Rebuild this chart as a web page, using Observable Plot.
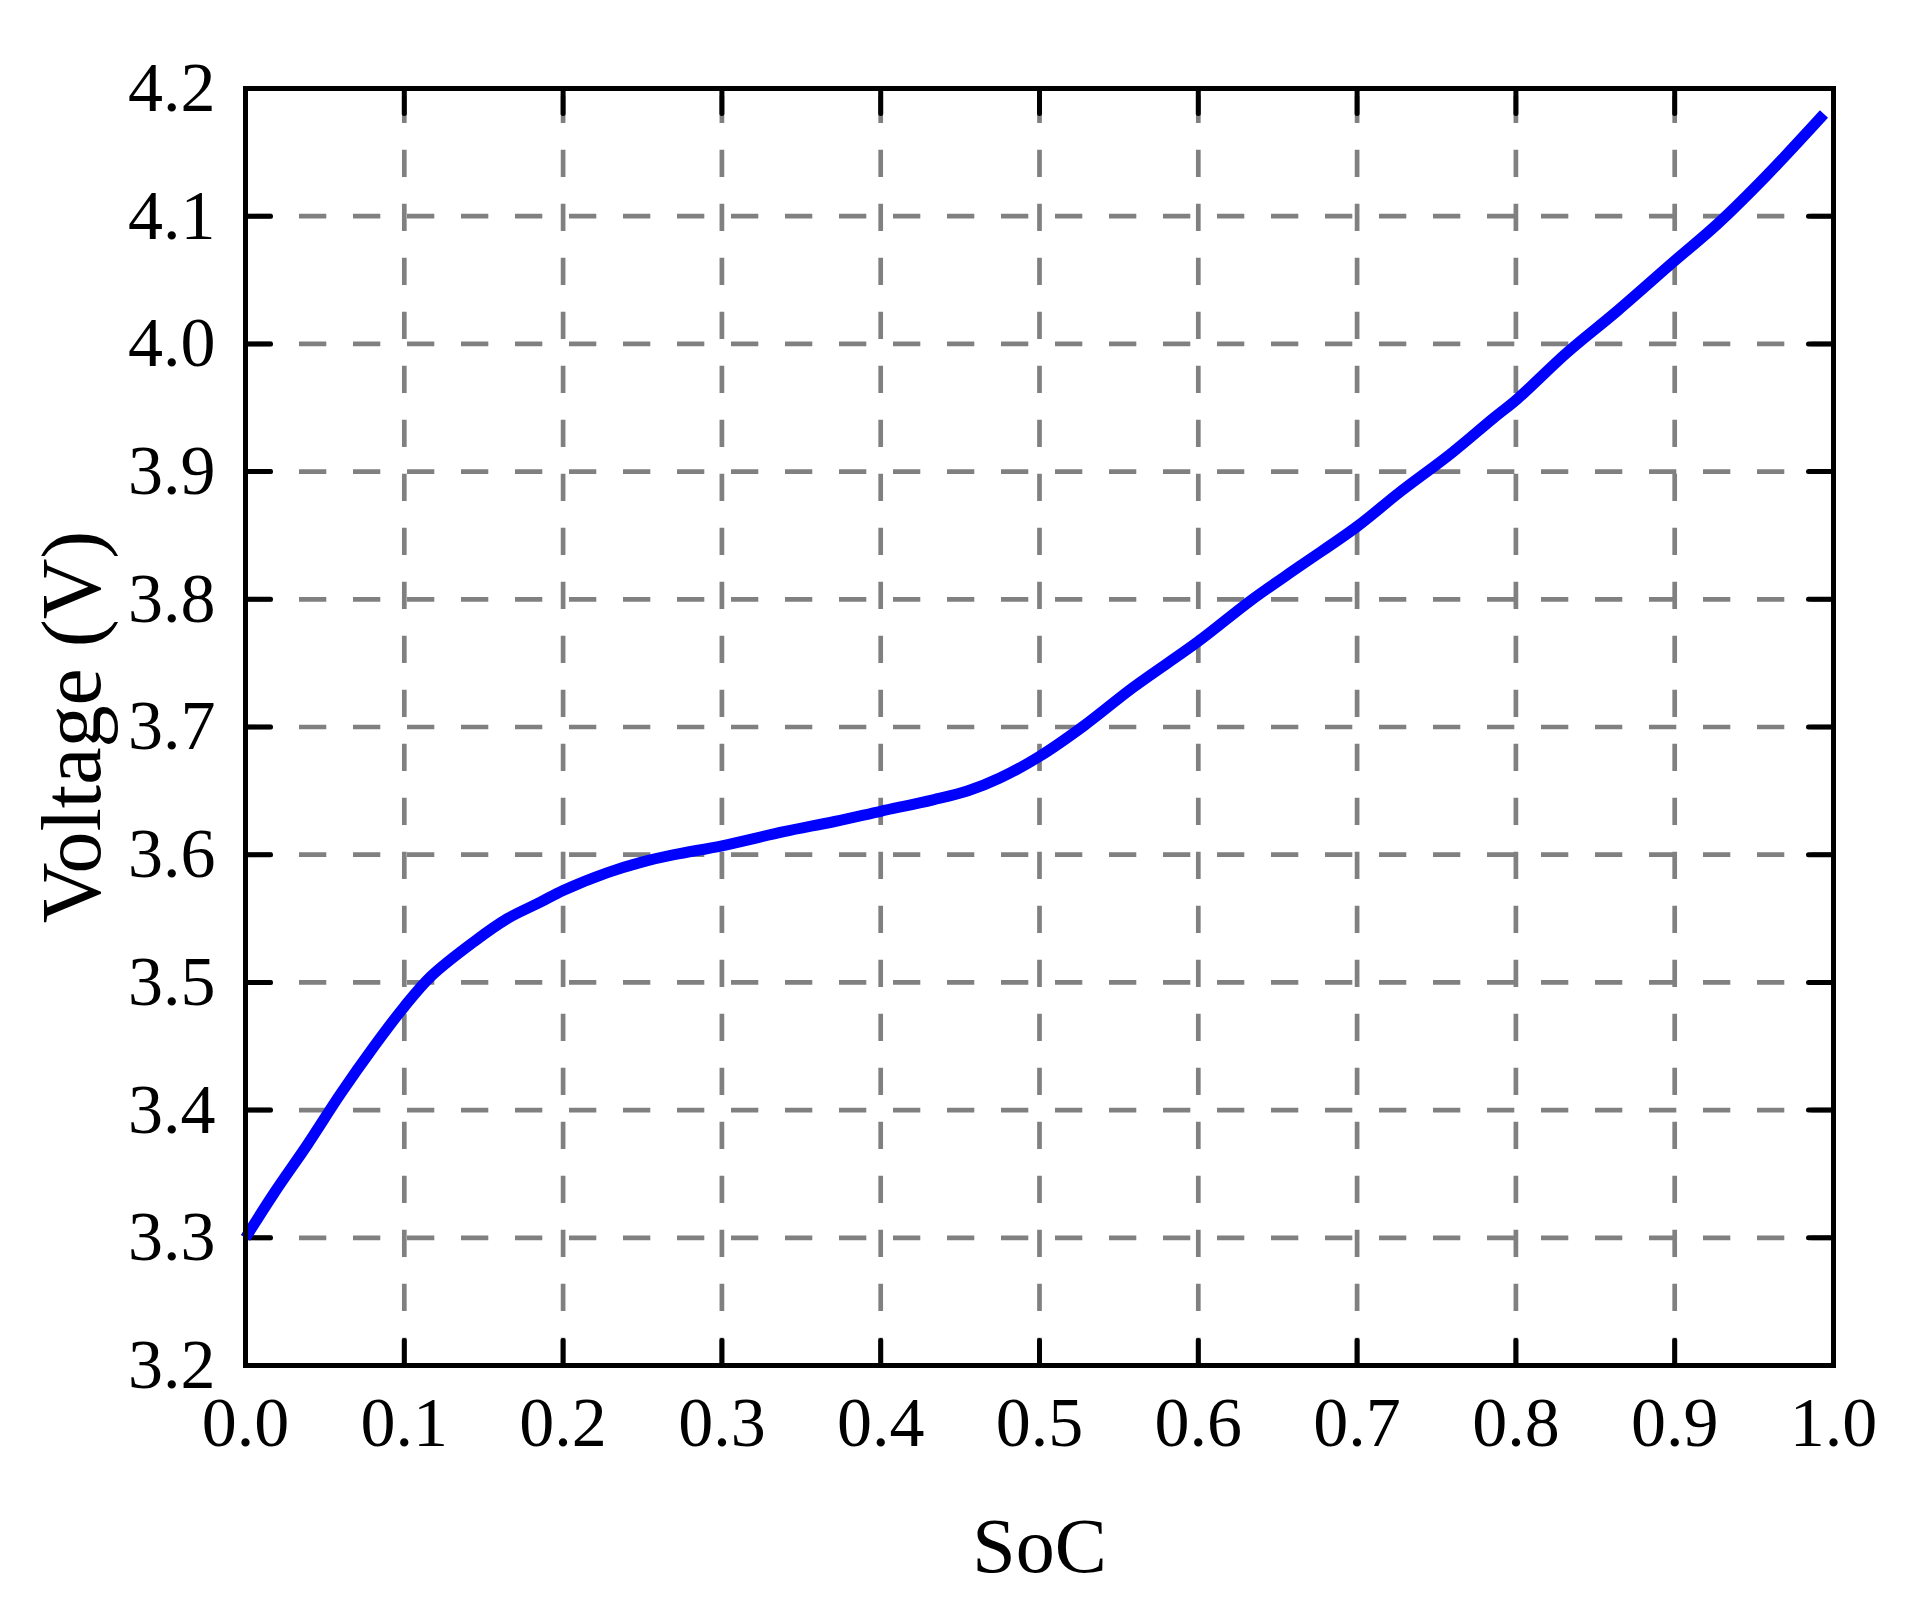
<!DOCTYPE html>
<html>
<head>
<meta charset="utf-8">
<script src="https://cdn.jsdelivr.net/npm/d3@7"></script>
<script src="https://cdn.jsdelivr.net/npm/@observablehq/plot@0.6"></script>
<style>
  html, body { margin: 0; padding: 0; background: #ffffff; }
  #chart svg { display: block; }
</style>
</head>
<body>
<div id="chart"></div>
<script>
// ---- data ----
const soc = [0, 0.018, 0.039, 0.060, 0.081, 0.100, 0.117, 0.144, 0.165, 0.186, 0.200, 0.228, 0.249, 0.270, 0.300, 0.339, 0.371, 0.400, 0.433, 0.455, 0.475, 0.500, 0.528, 0.559, 0.600, 0.633, 0.664, 0.700, 0.727, 0.759, 0.786, 0.801, 0.832, 0.864, 0.899, 0.927, 0.958, 0.994];
const voltage = [3.300, 3.335, 3.373, 3.413, 3.450, 3.481, 3.505, 3.532, 3.550, 3.563, 3.572, 3.586, 3.594, 3.600, 3.607, 3.618, 3.626, 3.634, 3.643, 3.650, 3.660, 3.677, 3.701, 3.731, 3.767, 3.799, 3.826, 3.857, 3.884, 3.914, 3.942, 3.957, 3.993, 4.026, 4.064, 4.094, 4.132, 4.180];
const xTicks = [0, 0.1, 0.2, 0.3, 0.4, 0.5, 0.6, 0.7, 0.8, 0.9, 1.0];
const yTicks = [3.2, 3.3, 3.4, 3.5, 3.6, 3.7, 3.8, 3.9, 4.0, 4.1, 4.2];
const xDomain = [0, 1];
const yDomain = [3.2, 4.2];
const xLabel = "SoC";
const yLabel = "Voltage (V)";

const data = soc.map((s, i) => ({soc: s, v: voltage[i]}));

const FONT = "'Liberation Serif', 'Times New Roman', serif";
const gridStyle = {stroke: "#808080", strokeOpacity: 1, strokeWidth: 4.7, strokeDasharray: "27.3,26.7"};
const tickShape = {draw(ctx, l) { ctx.moveTo(0, 0); ctx.lineTo(0, -l); }};
const tickStyle = {length: 25, anchor: "start", shape: tickShape, stroke: "black", strokeWidth: 5};

const chart = Plot.plot({
  width: 1913,
  height: 1606,
  marginLeft: 245,
  marginRight: 80,
  marginTop: 88,
  marginBottom: 241,
  style: {fontFamily: FONT, color: "black", background: "white"},
  x: {domain: xDomain},
  y: {domain: yDomain},
  marks: [
    // dashed grid
    Plot.ruleX(xTicks.slice(1, -1), {x: d => d, y1: yDomain[0], y2: yDomain[1], ...gridStyle}),
    Plot.ruleY(yTicks.slice(1, -1), {y: d => d, x1: xDomain[0], x2: xDomain[1], ...gridStyle}),
    // inward ticks on all four sides
    Plot.vector(xTicks, {x: d => d, y: yDomain[0], rotate: 0, ...tickStyle}),
    Plot.vector(xTicks, {x: d => d, y: yDomain[1], rotate: 180, ...tickStyle}),
    Plot.vector(yTicks, {y: d => d, x: xDomain[0], rotate: 90, ...tickStyle}),
    Plot.vector(yTicks, {y: d => d, x: xDomain[1], rotate: -90, ...tickStyle}),
    // tick labels
    Plot.axisX({ticks: xTicks, tickSize: 0, tickPadding: 31, tickFormat: d3.format(".1f"), fontSize: 70, label: null}),
    Plot.axisY({ticks: yTicks, tickSize: 0, tickPadding: 30, tickFormat: d3.format(".1f"), fontSize: 70, label: null}),
    // the curve
    Plot.line(data, {x: "soc", y: "v", stroke: "#0000ff", strokeWidth: 11, curve: "catmull-rom", strokeLinecap: "butt", strokeLinejoin: "round"}),
    // frame
    Plot.frame({stroke: "black", strokeWidth: 5}),
    // axis titles
    Plot.text([xLabel], {text: d => d, frameAnchor: "bottom", dy: 182, lineAnchor: "middle", textAnchor: "middle", fontSize: 78, fill: "black"}),
    Plot.text([yLabel], {text: d => d, frameAnchor: "left", dx: -172, rotate: -90, lineAnchor: "middle", textAnchor: "middle", fontSize: 84, fill: "black"})
  ]
});

document.getElementById("chart").appendChild(chart);
</script>
</body>
</html>
